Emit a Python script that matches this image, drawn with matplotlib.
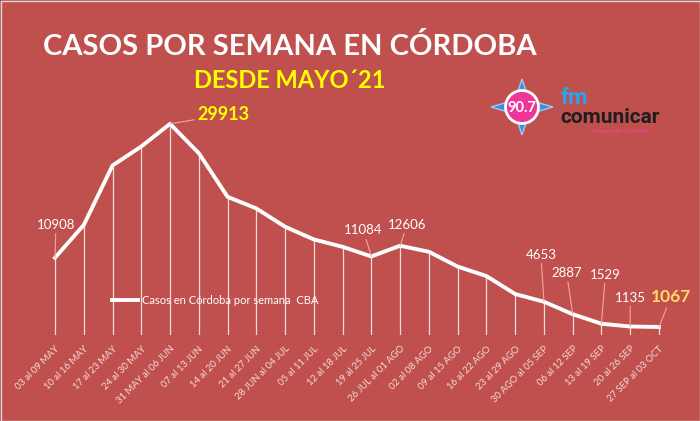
import matplotlib.pyplot as plt
from matplotlib.patches import Polygon, Circle, Rectangle

# weekly cases in Cordoba since May 2021
weeks = ["03 al 09 MAY", "10 al 16 MAY", "17 al 23 MAY", "24 al 30 MAY",
         "31 MAY al 06 JUN", "07 al 13 JUN", "14 al 20 JUN", "21 al 27 JUN",
         "28 JUN al 04 JUL", "05 al 11 JUL", "12 al 18 JUL", "19 al 25 JUL",
         "26 JUL al 01 AGO", "02 al 08 AGO", "09 al 15 AGO", "16 al 22 AGO",
         "23 al 29 AGO", "30 AGO al 05 SEP", "06 al 12 SEP", "13 al 19 SEP",
         "20 al 26 SEP", "27 SEP al 03 OCT"]
cases = [10908, 15550, 24000, 26700, 29913, 25750, 19550, 17900, 15300, 13500,
         12450, 11084, 12606, 11750, 9650, 8300, 5750, 4653, 2887, 1529, 1135, 1067]
labeled = [0, 4, 11, 12, 17, 18, 19, 20, 21]

BG = "#C0504D"
W, H = 700, 421
plt.rcParams["font.family"] = ["Lato", "DejaVu Sans"]

fig = plt.figure(figsize=(W / 100, H / 100), dpi=100, facecolor=BG)

# main plot area, in pixel terms: x index 0 -> 55px, step 28.76px ; y=0 -> 334.5px
ax = fig.add_axes([40 / W, (H - 334.5) / H, 635 / W, 234.5 / H])
ax.set_facecolor(BG)
x = list(range(len(weeks)))
ax.vlines(x, 0, cases, color="#F2DCDB", lw=0.9)
ax.plot(x, cases, color="white", lw=2.8, solid_joinstyle="round",
        label="Casos en Córdoba por semana  CBA")
ax.set_xlim(-15 / 28.76, 620 / 28.76)
ax.set_ylim(0, 33300)
for s in ax.spines.values():
    s.set_visible(False)
ax.set_yticks([])
ax.set_xticks(x)
ax.set_xticklabels(weeks, rotation=45, ha="right", rotation_mode="anchor",
                   fontsize=6.8, color="#F2DCDB")
ax.tick_params(axis="x", length=0, pad=7)

# data labels (offsets in pixels)
offsets = {0: (1, 33), 4: (53, 9), 11: (-8, 26), 12: (7, 21), 17: (-3, 47),
           18: (-6, 41), 19: (4, 49), 20: (0, 29), 21: (12, 30)}
for i in labeled:
    if i == 4:
        kw = dict(color="#FFFF00", fontsize=13, fontweight="bold")
    elif i == 21:
        kw = dict(color="#FFD966", fontsize=12.5, fontweight="bold")
    else:
        kw = dict(color="white", fontsize=9.5)
    ax.annotate(str(cases[i]), (i, cases[i]), xytext=offsets[i],
                textcoords="offset pixels", ha="center", va="center",
                arrowprops=dict(arrowstyle="-", color="#F4A6A0", lw=0.8,
                                shrinkA=0, shrinkB=0), **kw)

leg = ax.legend(loc="center left", bbox_to_anchor=(112 / W, 1 - 300 / H),
                bbox_transform=fig.transFigure, frameon=False, fontsize=8,
                handlelength=2.3, handletextpad=0.4, borderpad=0,
                borderaxespad=0)
for t in leg.get_texts():
    t.set_color("white")

# titles
fig.text(290 / W, 1 - 55 / H, "CASOS POR SEMANA EN CÓRDOBA", color="white",
         fontsize=21, fontweight="bold", ha="center", va="baseline")
fig.text(290 / W, 1 - 88 / H, "DESDE MAYO´21", color="#FFFF00",
         fontsize=17, fontweight="bold", ha="center", va="baseline")

# radio logo drawn in pixel coords
lg = fig.add_axes([0, 0, 1, 1], facecolor="none")
lg.set_xlim(0, W)
lg.set_ylim(H, 0)
lg.axis("off")
cx, cy = 522, 107
star = [(cx - 31, cy), (cx - 7, cy - 7), (cx, cy - 28), (cx + 7, cy - 7),
        (cx + 31, cy), (cx + 7, cy + 7), (cx, cy + 28), (cx - 7, cy + 7)]
lg.add_patch(Polygon(star, closed=True, fc="#3D8EE0", ec="#9CCBF2", lw=1))
lg.add_patch(Circle((cx, cy), 16.5, fc="#F0359A", ec="white", lw=2))
lg.text(cx, cy + 1, "90.7", color="white", fontsize=10.5, fontweight="bold",
        ha="center", va="center")
lg.text(561, 104, "fm", color="#2AA3E8", fontsize=16, fontweight="bold",
        ha="left", va="baseline", family=["Roboto", "DejaVu Sans"])
lg.text(560, 123, "comunicar", color="#1E1E1E", fontsize=15,
        fontweight="bold", ha="left", va="baseline",
        family=["Roboto", "DejaVu Sans"])
lg.text(620, 131, "Salsipuedes Córdoba", color="#FF3FA5", fontsize=4.5,
        ha="center", va="center")
lg.add_patch(Rectangle((0.5, 0.5), W - 1, H - 1, fill=False, ec="#D9D9D9", lw=1))

fig.savefig("out.png", dpi=100, facecolor=BG)
